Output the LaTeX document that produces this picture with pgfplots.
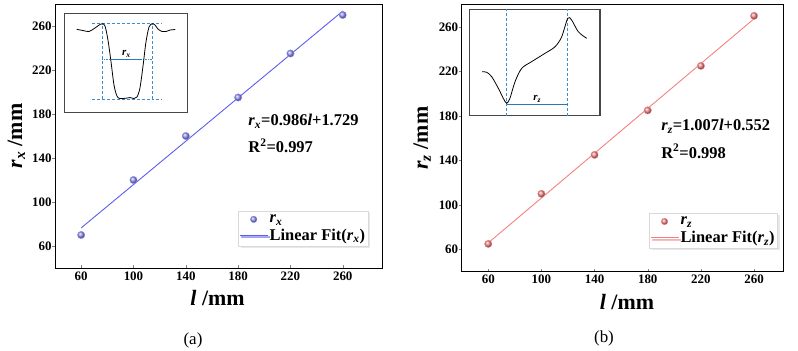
\documentclass[border=0pt]{standalone}
\usepackage{fontspec}
\setmainfont{Liberation Serif}
\usepackage{pgfplots}
\pgfplotsset{compat=1.18}
\usetikzlibrary{shadows}

\definecolor{fitblue}{RGB}{92,92,242}
\definecolor{ptblue}{RGB}{150,150,248}
\definecolor{fitred}{RGB}{246,128,128}
\definecolor{ptred}{RGB}{248,140,140}
\definecolor{guide}{RGB}{62,142,204}
\definecolor{guidedark}{RGB}{40,120,190}
\definecolor{frame}{RGB}{70,70,70}

\newcommand{\rx}{\textit{r}\textsubscript{\textit{x}}}
\newcommand{\rz}{\textit{r}\textsubscript{\textit{z}}}

\pgfplotsset{
  mainplot/.style={
    scale only axis,
    anchor=south west,
    axis line style={line width=1pt},
    tick pos=left,
    tick align=inside,
    major tick length=3bp,
    ytick style={xshift=-3bp},
    xtick={60,100,140,180,220,260},
    ytick={60,100,140,180,220,260},
    ymin=40, ymax=280, xmin=40,
    /pgf/number format/assume math mode=true,
    tick label style={font=\fontsize{13}{13}\selectfont\bfseries},
    label style={font=\fontsize{22}{22}\selectfont\bfseries},
    ylabel style={anchor=center},
    xlabel style={anchor=center},
    legend cell align=left,
    legend style={font=\fontsize{16.5}{19}\selectfont\bfseries,
      draw=gray!30, fill=white, inner xsep=1bp, inner ysep=2bp,
      anchor=south east, row sep=1bp,
      drop shadow={shadow xshift=2bp, shadow yshift=-2bp, fill=gray!35}},
  },
  inset/.style={
    scale only axis,
    anchor=south west,
    xmin=0, xmax=100, ymin=0, ymax=100,
    xtick=\empty, ytick=\empty,
    axis line style={draw=frame, line width=1.1pt},
    axis background/.style={fill=white},
    clip=false,
  },
  ptlegend/.style={legend image code/.code={%
    \draw[mark=ball, mark size=3.3bp, mark options={draw=none, ball color=#1}]
      plot coordinates {(14bp,0bp)};}},
  % line sample of the legend, drawn as a thin filled bar
  linelegend/.style={legend image code/.code={%
    \fill[#1, draw=none] (0bp,-0.5bp) rectangle (28bp,0.5bp);}},
}

\begin{document}
\begin{tikzpicture}
\path[use as bounding box] (0,0) rectangle (798bp,351bp);

% ---------------- panel (a) ----------------
\begin{axis}[mainplot,
  at={(55bp,83bp)}, width=327bp, height=264bp, xmax=290,
  xlabel={\textit{l} /mm}, ylabel={\rx\ /mm},
  xlabel style={at={(axis description cs:0.497,-0.112)}},
  ylabel style={at={(axis description cs:-0.118,0.5)}},
  legend style={at={(axis description cs:0.958,0.083)}},
]
\addplot[only marks, color=ptblue, mark=ball, mark size=3.7bp,
  mark options={draw=none, ball color=ptblue}, ptlegend=ptblue]
  coordinates {(60,70) (100,120) (140,160) (180,195) (220,235) (260,270)};
\addlegendentry{\rx}
\addplot[color=fitblue, line width=0.9pt, linelegend=fitblue]
  coordinates {(60,76.43) (260,273.57)};
\addlegendentry{Linear Fit(\rx)}
\node[anchor=base west, inner sep=0, font=\fontsize{16.5}{18}\selectfont\bfseries]
  at (rel axis cs:0.591,0.538) {\rx=0.986\textit{l}+1.729};
\node[anchor=base west, inner sep=0, font=\fontsize{16.5}{18}\selectfont\bfseries]
  at (rel axis cs:0.591,0.437) {R\textsuperscript{2}=0.997};
\end{axis}

% inset of panel (a): transverse profile
\begin{axis}[inset, at={(64.3bp,238.7bp)}, width=123bp, height=99bp]
\addplot[draw=guide, densely dashed, line width=0.7pt] coordinates {(22.3,89.5) (79.2,89.5)};
\addplot[draw=guide, densely dashed, line width=0.7pt] coordinates {(22.3,13.4) (79.2,13.4)};
\addplot[draw=guide, densely dashed, line width=0.7pt] coordinates {(30.9,13.4) (30.9,89.5)};
\addplot[draw=guide, densely dashed, line width=0.7pt] coordinates {(71.5,13.4) (71.5,89.5)};
\addplot[draw=guide, densely dotted, line width=0.7pt] coordinates {(30.9,53.8) (71.5,53.8)};
\addplot[draw=guidedark, line width=1pt] coordinates {(39,53.8) (63.4,53.8)};
\addplot[black, line width=0.8pt, smooth, tension=0.5] coordinates {
  (10.1,83.8) (15.2,82.6) (20.1,81.6) (25,85.2) (29,88.7) (30.9,89.5)
  (33.1,87.2) (35.5,73) (38,50.8) (40.4,27.6) (42.8,16.5) (45.3,13.9)
  (51,14.4) (53.4,14.9) (56.7,13.9) (59.1,15.5) (61.5,24.5) (64,46.8)
  (66.4,71) (68.9,86.2) (71.5,89.5) (73.7,88.2) (76.2,84.1) (79.4,81.6)
  (82.7,81.6) (86,83.1) (90.2,83.6)};
\node[anchor=south, inner sep=1bp, font=\fontsize{11}{11}\selectfont\bfseries]
  at (axis cs:50.5,54.5) {\rx};
\end{axis}

% ---------------- panel (b) ----------------
\begin{axis}[mainplot,
  at={(461.7bp,79.3bp)}, width=321.6bp, height=267bp, xmax=282,
  xlabel={\textit{l} /mm}, ylabel={\rz\ /mm},
  xlabel style={at={(axis description cs:0.514,-0.112)}},
  ylabel style={at={(axis description cs:-0.123,0.5)}},
  legend style={at={(axis description cs:0.983,0.088)}},
]
\addplot[only marks, color=ptred, mark=ball, mark size=3.7bp,
  mark options={draw=none, ball color=ptred}, ptlegend=ptred]
  coordinates {(60,65) (100,110) (140,145) (180,185) (220,225) (260,270)};
\addlegendentry{\rz}
\addplot[color=fitred, line width=0.9pt, linelegend=fitred]
  coordinates {(60,65.95) (260,267.38)};
\addlegendentry{Linear Fit(\rz)}
\node[anchor=base west, inner sep=0, font=\fontsize{16.5}{18}\selectfont\bfseries]
  at (rel axis cs:0.620,0.528) {\rz=1.007\textit{l}+0.552};
\node[anchor=base west, inner sep=0, font=\fontsize{16.5}{18}\selectfont\bfseries]
  at (rel axis cs:0.620,0.425) {R\textsuperscript{2}=0.998};
\end{axis}

% inset of panel (b): longitudinal profile
\begin{axis}[inset, at={(469.3bp,235.3bp)}, width=130.7bp, height=106.4bp]
\addplot[draw=guide, densely dashed, line width=0.7pt] coordinates {(28.6,0) (28.6,100)};
\addplot[draw=guide, densely dashed, line width=0.7pt] coordinates {(75.3,0) (75.3,100)};
\addplot[draw=guidedark, line width=1pt] coordinates {(28.6,10.1) (75.3,10.1)};
\addplot[black, line width=0.8pt, smooth, tension=0.5] coordinates {
  (9.9,41.4) (13.3,40.8) (17.1,36.7) (22.2,25.8) (26,16.4) (28.6,11.7)
  (31.1,16.4) (35,32) (40.1,44.5) (47.7,50.8) (57.9,58.6) (65.6,64.8)
  (70.7,74.2) (75.3,91.5) (78.3,89.9) (83.4,78.9) (89.8,72.7)};
\node[anchor=south, inner sep=1bp, font=\fontsize{11}{11}\selectfont\bfseries]
  at (axis cs:52,11.5) {\rz};
\end{axis}

% panel captions
\node[font=\fontsize{17}{17}\selectfont] at (193bp,11bp) {(a)};
\node[font=\fontsize{17}{17}\selectfont] at (604bp,13bp) {(b)};
\end{tikzpicture}
\end{document}
